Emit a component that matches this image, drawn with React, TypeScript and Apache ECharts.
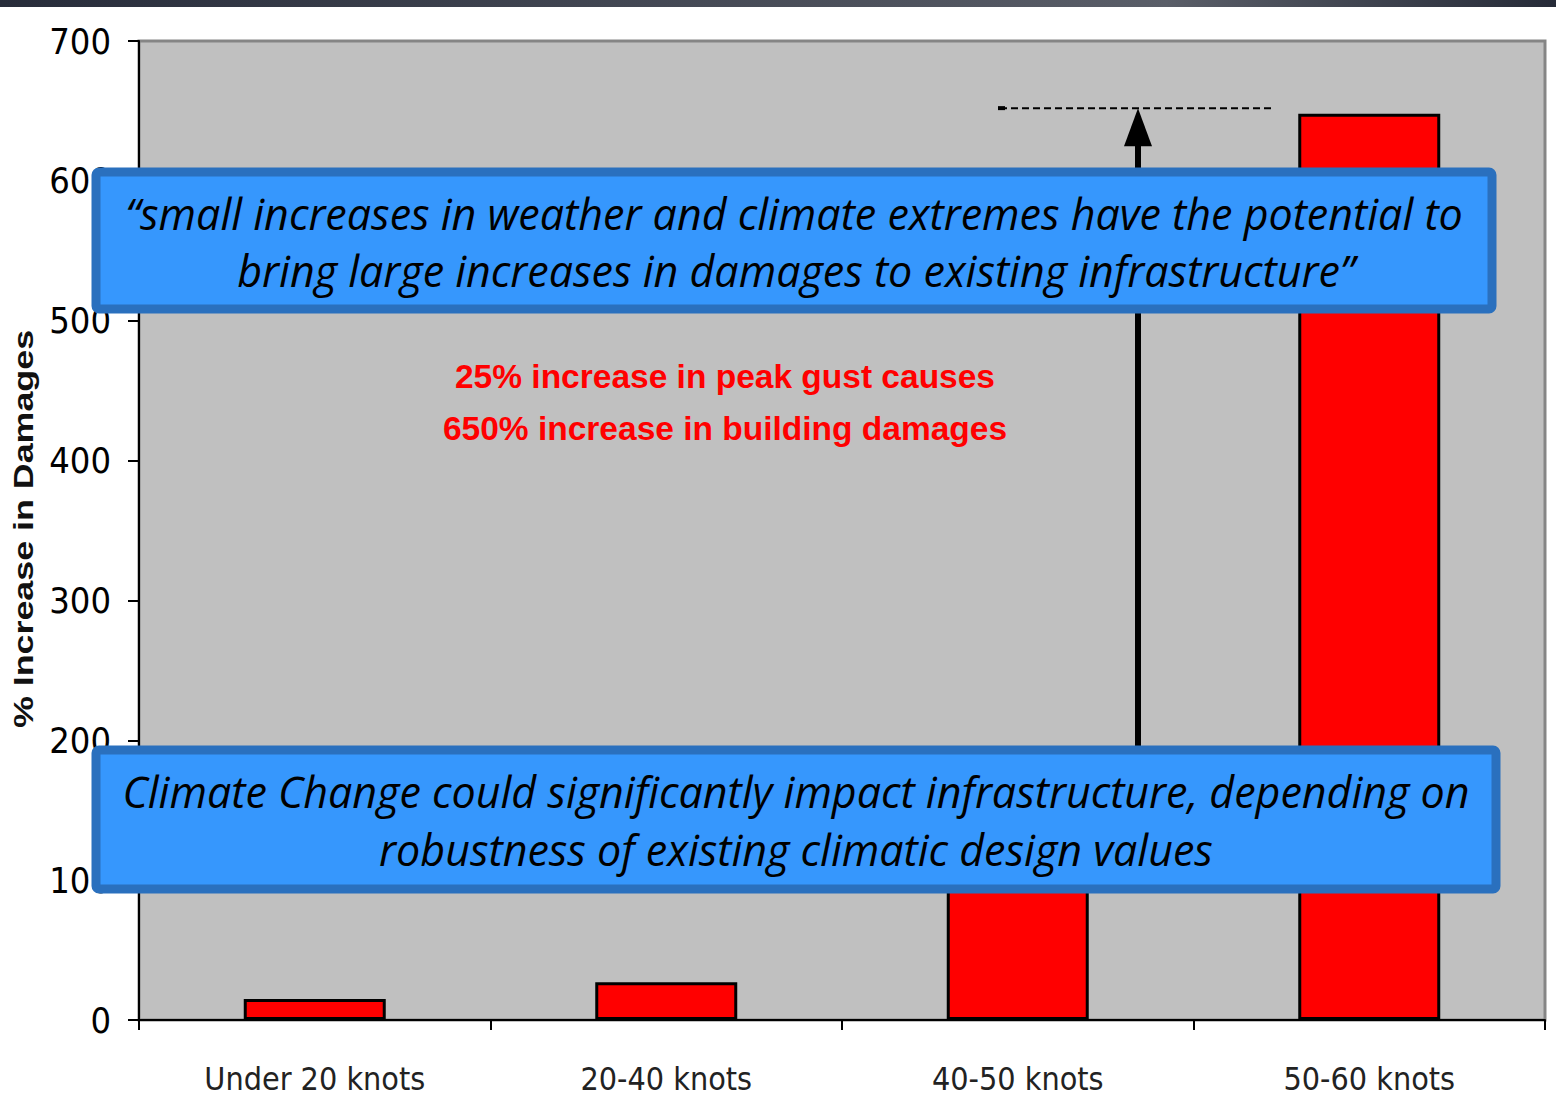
import React, { useEffect, useRef } from "react";
import * as echarts from "echarts";

const categories = ["Under 20 knots", "20-40 knots", "40-50 knots", "50-60 knots"];
const damageIncrease = [15, 27, 100, 648];
const yTicks = { min: 0, max: 700, interval: 100 };
const peakLevel = 652;
const arrowBase = 100;

const quoteLines = [
  "\u201csmall increases in weather and climate extremes have the potential to",
  "bring large increases in damages to existing infrastructure\u201d",
];
const conclusionLines = [
  "Climate Change could significantly impact infrastructure, depending on",
  "robustness of existing climatic design values",
];
const redLines = ["25% increase in peak gust causes", "650% increase in building damages"];
const yAxisTitle = "% Increase in Damages";

export default function App() {
  const ref = useRef<HTMLDivElement>(null);
  useEffect(() => {
    if (!ref.current) return;
    const chart = echarts.init(ref.current, null, { renderer: "svg" });
    const narrow = "'Liberation Sans Narrow', 'DejaVu Sans Condensed', 'Liberation Sans', Arial, sans-serif";
    chart.setOption({
      animation: false,
      backgroundColor: "#ffffff",
      grid: {
        left: 139,
        right: 11,
        top: 41,
        bottom: 97,
        show: true,
        backgroundColor: "#C0C0C0",
        borderColor: "#858585",
        borderWidth: 3,
      },
      xAxis: {
        type: "category",
        data: categories,
        axisLine: { show: true, lineStyle: { color: "#000", width: 2 } },
        axisTick: { show: true, interval: 0, length: 10, lineStyle: { color: "#000", width: 2 } },
        axisLabel: { interval: 0, fontFamily: narrow, fontSize: 32, color: "#222", margin: 43 },
        splitLine: { show: false },
      },
      yAxis: {
        type: "value",
        min: yTicks.min,
        max: yTicks.max,
        interval: yTicks.interval,
        axisLine: { show: true, lineStyle: { color: "#000", width: 2 } },
        axisTick: { show: true, length: 11, lineStyle: { color: "#000", width: 2 } },
        axisLabel: { fontFamily: narrow, fontSize: 36, color: "#000", margin: 28 },
        splitLine: { show: false },
      },
      series: [
        {
          type: "bar",
          data: damageIncrease,
          barWidth: 142,
          itemStyle: { color: "#FF0000", borderColor: "#000", borderWidth: 3 },
        },
      ],
    });

    const yPeak = chart.convertToPixel({ yAxisIndex: 0 }, peakLevel) as number;
    const yBase = chart.convertToPixel({ yAxisIndex: 0 }, arrowBase) as number;
    const arrowX = 1138;
    const boxText = (text: string, x: number, y: number) => ({
      type: "text",
      z: 110,
      style: {
        text,
        x,
        y,
        fontFamily: "'Open Sans', Lato, sans-serif",
        fontStyle: "italic",
        fontSize: 43,
        fill: "#000",
        align: "center",
        verticalAlign: "middle",
      },
    });
    const redText = (text: string, y: number) => ({
      type: "text",
      z: 50,
      style: {
        text,
        x: 725,
        y,
        fontFamily: "'Liberation Sans', Arial, sans-serif",
        fontWeight: "bold",
        fontSize: 33.5,
        fill: "#FF0000",
        align: "center",
        verticalAlign: "middle",
      },
    });

    chart.setOption({
      graphic: [
        {
          type: "rect",
          z: 1,
          shape: { x: 0, y: 0, width: 1556, height: 7 },
          style: {
            fill: new echarts.graphic.LinearGradient(0, 0, 1, 0, [
              { offset: 0, color: "#272c3a" },
              { offset: 0.75, color: "#5a5e68" },
              { offset: 1, color: "#262b38" },
            ]),
          },
        },
        {
          type: "line",
          z: 40,
          shape: { x1: 1000, y1: yPeak, x2: 1272, y2: yPeak },
          style: { stroke: "#000", lineWidth: 2, lineDash: [7, 4] },
        },
        {
          type: "rect",
          z: 40,
          shape: { x: 998, y: yPeak - 2, width: 7, height: 4 },
          style: { fill: "#000" },
        },
        {
          type: "line",
          z: 40,
          shape: { x1: arrowX, y1: yBase, x2: arrowX, y2: yPeak + 30 },
          style: { stroke: "#000", lineWidth: 6 },
        },
        {
          type: "polygon",
          z: 40,
          shape: {
            points: [
              [arrowX, yPeak],
              [arrowX - 14, yPeak + 38],
              [arrowX + 14, yPeak + 38],
            ],
          },
          style: { fill: "#000" },
        },
        redText(redLines[0], 376),
        redText(redLines[1], 428),
        {
          type: "rect",
          z: 100,
          shape: { x: 96, y: 172, width: 1396, height: 137, r: 3 },
          style: { fill: "#3697FD", stroke: "#2A70BE", lineWidth: 9 },
        },
        boxText(quoteLines[0], 794, 213),
        boxText(quoteLines[1], 796, 270),
        {
          type: "rect",
          z: 100,
          shape: { x: 96, y: 750, width: 1400, height: 139, r: 3 },
          style: { fill: "#3697FD", stroke: "#2A70BE", lineWidth: 9 },
        },
        boxText(conclusionLines[0], 796, 791),
        boxText(conclusionLines[1], 796, 849),
        {
          type: "text",
          z: 50,
          x: 23,
          y: 529,
          rotation: Math.PI / 2,
          scaleX: 1.28,
          style: {
            text: yAxisTitle,
            x: 0,
            y: 0,
            fontFamily: "'Liberation Sans', Arial, sans-serif",
            fontWeight: "bold",
            fontSize: 28,
            fill: "#111",
            align: "center",
            verticalAlign: "middle",
          },
        },
      ],
    });
    return () => chart.dispose();
  }, []);
  return (
    <div
      ref={ref}
      style={{ position: "fixed", left: 0, top: 0, width: 1556, height: 1117, background: "#fff" }}
    />
  );
}
